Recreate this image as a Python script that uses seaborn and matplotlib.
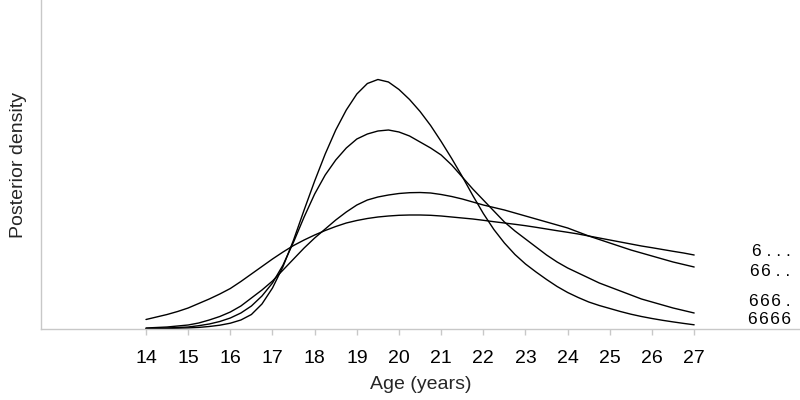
import matplotlib
matplotlib.use("Agg")
import matplotlib.pyplot as plt
import numpy as np
import pandas as pd
import seaborn as sns

ages = [14, 14.25, 14.5, 14.75, 15, 15.25, 15.5, 15.75, 16, 16.25, 16.5, 16.75,
        17, 17.25, 17.5, 17.75, 18, 18.25, 18.5, 18.75, 19, 19.25, 19.5, 19.75,
        20, 20.25, 20.5, 20.75, 21, 21.25, 21.5, 21.75, 22, 22.25, 22.5, 22.75,
        23, 23.25, 23.5, 23.75, 24, 24.25, 24.5, 24.75, 25, 25.25, 25.5, 25.75,
        26, 26.25, 26.5, 26.75, 27]

dens_6666 = [0.0003, 0.0004, 0.0006, 0.0008, 0.0011, 0.0016, 0.0025, 0.0038, 0.0058, 0.009, 0.0145, 0.025,
             0.041, 0.0625, 0.089, 0.119, 0.148, 0.175, 0.199, 0.219, 0.235, 0.2455, 0.2495, 0.247,
             0.2395, 0.2295, 0.2175, 0.2035, 0.1875, 0.1705, 0.1525, 0.1335, 0.1155, 0.0995, 0.086, 0.0745,
             0.065, 0.057, 0.0495, 0.0425, 0.0365, 0.0315, 0.027, 0.0235, 0.0205, 0.0175, 0.0148, 0.0125,
             0.0105, 0.0087, 0.0071, 0.0056, 0.0042]
dens_666 = [0.0005, 0.0007, 0.001, 0.0015, 0.002, 0.0033, 0.005, 0.0075, 0.011, 0.016, 0.023, 0.033,
            0.046, 0.064, 0.087, 0.112, 0.135, 0.154, 0.169, 0.181, 0.190, 0.195, 0.198, 0.199,
            0.197, 0.193, 0.187, 0.181, 0.174, 0.164, 0.152, 0.140, 0.129, 0.118, 0.107, 0.098,
            0.090, 0.082, 0.074, 0.067, 0.061, 0.056, 0.051, 0.046, 0.042, 0.038, 0.034, 0.030,
            0.027, 0.024, 0.021, 0.0185, 0.016]
dens_66 = [0.001, 0.0015, 0.002, 0.003, 0.004, 0.006, 0.009, 0.0125, 0.017, 0.023, 0.031, 0.039,
           0.048, 0.059, 0.070, 0.081, 0.091, 0.100, 0.109, 0.117, 0.124, 0.129, 0.132, 0.134,
           0.1355, 0.1363, 0.1365, 0.136, 0.1345, 0.1325, 0.130, 0.127, 0.124, 0.1215, 0.119, 0.116,
           0.113, 0.110, 0.107, 0.104, 0.101, 0.097, 0.093, 0.0895, 0.086, 0.0825, 0.079, 0.076,
           0.073, 0.070, 0.067, 0.0645, 0.062]
dens_6 = [0.0095, 0.012, 0.0145, 0.0175, 0.021, 0.0255, 0.030, 0.035, 0.0405, 0.0475, 0.055, 0.0625,
          0.070, 0.077, 0.0835, 0.089, 0.094, 0.0985, 0.1025, 0.106, 0.1085, 0.1105, 0.112, 0.113,
          0.1137, 0.114, 0.114, 0.1137, 0.113, 0.112, 0.111, 0.110, 0.1087, 0.1073, 0.106, 0.1047,
          0.1033, 0.1017, 0.100, 0.0983, 0.0967, 0.095, 0.093, 0.091, 0.089, 0.087, 0.085, 0.083,
          0.0813, 0.0795, 0.0777, 0.076, 0.074]

series_names = ["6 . . .", "6\u200a6 . .", "6\u200a6\u200a6 .", "6\u200a6\u200a6\u200a6"]
label_levels = [0.0773, 0.057, 0.0273, 0.009]
x_ticks = list(range(14, 28))

frames = []
for name, vals in zip(series_names, [dens_6, dens_66, dens_666, dens_6666]):
    frames.append(pd.DataFrame({"age": ages, "density": vals, "series": name}))
df = pd.concat(frames, ignore_index=True)

sns.set_style("white")
plt.rcParams["font.family"] = ["Liberation Sans", "DejaVu Sans"]

fig = plt.figure(figsize=(8, 4), dpi=100)
ax = fig.add_axes([41 / 800, 71 / 400, 759 / 800, 329 / 400])

sns.lineplot(data=df, x="age", y="density", hue="series",
             palette=["black"] * 4, linewidth=1.0, legend=False, ax=ax)
for ln in ax.lines:
    ln.set_solid_joinstyle("round")

ax.set_xlim(11.51, 29.51)
ax.set_ylim(0, 0.329)
ax.set_xticks(x_ticks)
ax.set_xticklabels([str(t) for t in x_ticks])
ax.set_yticks([])

for s in ["top", "right"]:
    ax.spines[s].set_visible(False)
for s in ["left", "bottom"]:
    ax.spines[s].set_color("#c8c8c8")
    ax.spines[s].set_linewidth(1.0)

ax.tick_params(axis="x", direction="out", length=4, width=1, color="#c8c8c8",
               labelsize=14, labelcolor="black", pad=11, bottom=True)

ax.set_xlabel("Age (years)", fontsize=14, va="center")
ax.xaxis.set_label_coords(0.5, -0.169)
ax.set_ylabel("Posterior density", fontsize=14, va="center")
ax.yaxis.set_label_coords(-0.0295, 0.5)

for name, lv in zip(series_names, label_levels):
    ax.text(29.29, lv, name, ha="right", va="center", fontsize=12.5, color="black")

fig.savefig("out.png", dpi=100)
